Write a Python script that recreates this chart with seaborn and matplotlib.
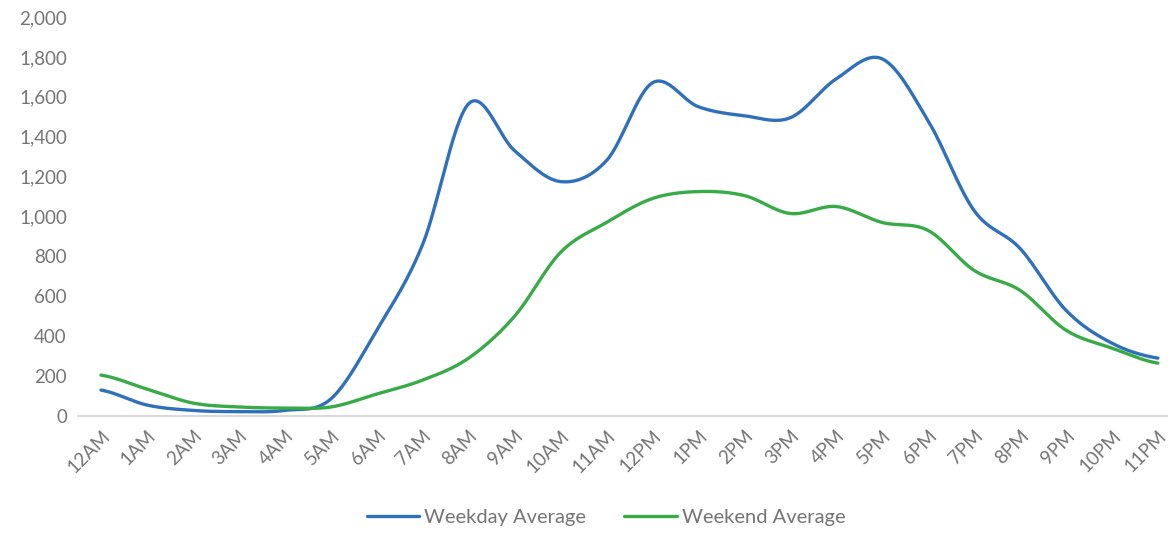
import numpy as np
import pandas as pd
import matplotlib
matplotlib.use("Agg")
import matplotlib.pyplot as plt
import seaborn as sns

hours = ["12AM", "1AM", "2AM", "3AM", "4AM", "5AM", "6AM", "7AM", "8AM", "9AM",
         "10AM", "11AM", "12PM", "1PM", "2PM", "3PM", "4PM", "5PM", "6PM", "7PM",
         "8PM", "9PM", "10PM", "11PM"]
weekday = [130, 55, 28, 22, 28, 85, 430, 860, 1565, 1330, 1175, 1280, 1670, 1550,
           1505, 1495, 1690, 1790, 1480, 1030, 840, 530, 365, 290]
weekend = [205, 135, 65, 45, 40, 45, 110, 180, 290, 500, 820, 970, 1090, 1125,
           1105, 1015, 1050, 970, 930, 730, 630, 430, 340, 265]


def smooth(y, n=30):
    # catmull-rom style smoothing, like excel's "smoothed line"
    y = np.asarray(y, float)
    p = np.concatenate([[y[0]], y, [y[-1]]])
    xs, ys = [], []
    for i in range(len(y) - 1):
        t = np.linspace(0, 1, n, endpoint=False)
        p0, p1, p2, p3 = p[i], p[i + 1], p[i + 2], p[i + 3]
        v = 0.5 * ((2 * p1) + (-p0 + p2) * t + (2 * p0 - 5 * p1 + 4 * p2 - p3) * t ** 2
                   + (-p0 + 3 * p1 - 3 * p2 + p3) * t ** 3)
        xs.extend(i + t)
        ys.extend(v)
    xs.append(len(y) - 1)
    ys.append(y[-1])
    return np.array(xs), np.array(ys)


sns.set_style("white")
plt.rcParams["font.family"] = ["Lato", "DejaVu Sans"]

frames = []
for name, vals in [("Weekday Average", weekday), ("Weekend Average", weekend)]:
    sx, sy = smooth(vals)
    frames.append(pd.DataFrame({"x": sx, "y": sy, "series": name}))
df = pd.concat(frames, ignore_index=True)

fig = plt.figure(figsize=(11.68, 5.34), dpi=100)
ax = fig.add_axes([78 / 1168, 1 - 416 / 534, 1 - 78 / 1168, (416 - 17) / 534])

sns.lineplot(data=df, x="x", y="y", hue="series", sort=False, estimator=None,
             palette=["#2F70BD", "#38AB46"], linewidth=2.4, ax=ax)

ax.set_xlim(-0.5, 23.22)
ax.set_ylim(0, 2000)
ax.set_xticks(range(len(hours)))
ax.set_xticklabels(hours, rotation=45, ha="right", rotation_mode="anchor")
ax.set_yticks(range(0, 2001, 200))
ax.set_yticklabels([f"{v:,}" for v in range(0, 2001, 200)])
ax.tick_params(axis="both", length=0, labelsize=13.5, labelcolor="#757575", pad=8)
ax.set_xlabel("")
ax.set_ylabel("")
sns.despine(ax=ax, left=True, top=True, right=True)
ax.spines["bottom"].set_color("#d9d9d9")
ax.spines["bottom"].set_linewidth(1.5)
ax.spines["bottom"].set_clip_on(False)

leg = ax.legend(loc="center", bbox_to_anchor=(528 / 1090, -0.255), ncol=2,
                frameon=False, fontsize=14.5, handlelength=2.6, columnspacing=1.9,
                handletextpad=0.25)
for t in leg.get_texts():
    t.set_color("#757575")

fig.savefig("out.png", dpi=100)
